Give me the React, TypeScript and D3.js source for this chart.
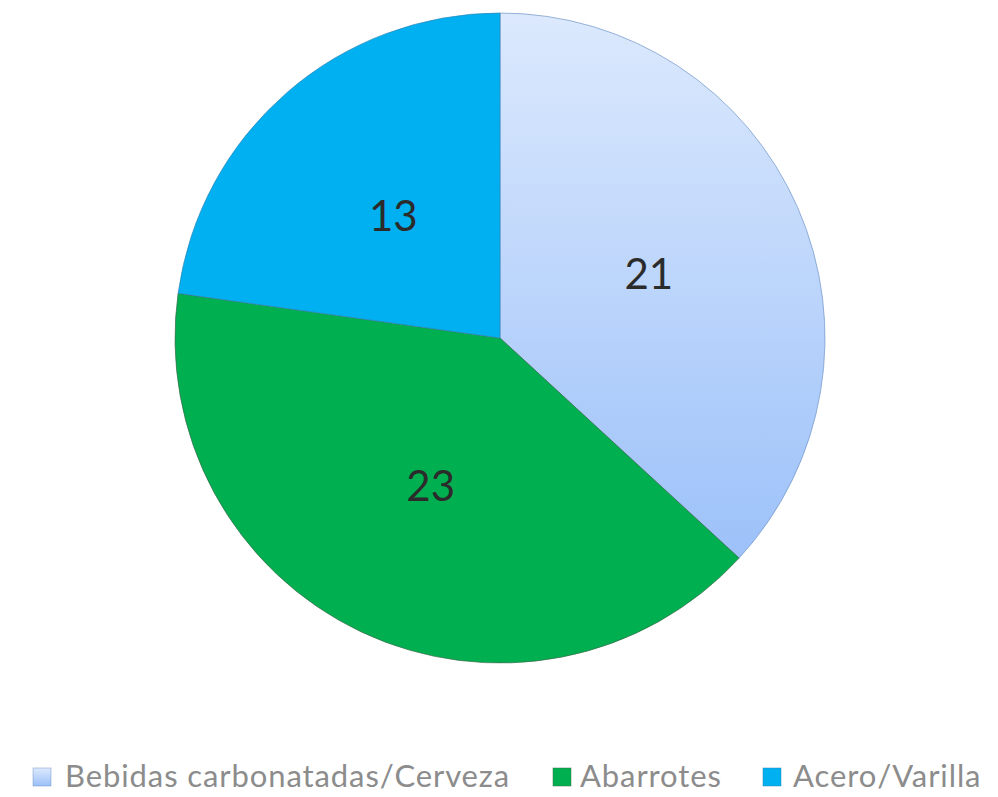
import React from "react";
import * as d3 from "d3";

const categories = ["Bebidas carbonatadas/Cerveza", "Abarrotes", "Acero/Varilla"];
const values = [21, 23, 13];
const colors = ["url(#gradLight)", "#00b050", "#00b0f0"];
const legendColors = ["url(#gradLegend)", "#00b050", "#00b0f0"];
const strokes = ["#6f94c8", "#3a6a4a", "#2e86b8"];

const W = 998;
const H = 797;
const cx = 500;
const cy = 338;
const R = 325;

export default function App() {
  const pie = d3.pie<number>().sort(null).value((d) => d)(values);
  const arc = d3.arc<d3.PieArcDatum<number>>().innerRadius(0).outerRadius(R);
  const labelArc = d3.arc<d3.PieArcDatum<number>>().innerRadius(R * 0.5).outerRadius(R * 0.5);

  const legendX = [33, 553, 763];
  const legendTextX = [65, 580, 793];

  return (
    <svg
      width={W}
      height={H}
      style={{ position: "absolute", left: 0, top: 0, display: "block", background: "#fff" }}
      fontFamily="Lato, 'Open Sans', sans-serif"
    >
      <defs>
        <linearGradient id="gradLight" gradientUnits="userSpaceOnUse" x1="0" y1={-R} x2="0" y2={222}>
          <stop offset="0" stopColor="#dce9fd" />
          <stop offset="1" stopColor="#9cc1f9" />
        </linearGradient>
        <linearGradient id="gradLegend" x1="0" y1="0" x2="0" y2="1">
          <stop offset="0" stopColor="#dde9fd" />
          <stop offset="1" stopColor="#9bc0f9" />
        </linearGradient>
      </defs>
      <g transform={`translate(${cx},${cy})`}>
        {pie.map((d, i) => (
          <path key={i} d={arc(d) || ""} fill={colors[i]} stroke={strokes[i]} strokeWidth={1} strokeOpacity={0.7} />
        ))}
        {pie.map((d, i) => {
          const [x, y] = labelArc.centroid(d);
          return (
            <text key={i} x={x} y={y} textAnchor="middle" dominantBaseline="central" fontSize={42} fill="#2b2b2b">
              {values[i]}
            </text>
          );
        })}
      </g>
      <g>
        {categories.map((c, i) => (
          <g key={c}>
            <rect x={legendX[i]} y={768} width={18} height={18} fill={legendColors[i]} stroke={strokes[i]} strokeWidth={0.8} strokeOpacity={0.6} />
            <text x={legendTextX[i]} y={787} fontSize={31} fill="#8c8c8c" letterSpacing={0.9}>
              {c}
            </text>
          </g>
        ))}
      </g>
    </svg>
  );
}
